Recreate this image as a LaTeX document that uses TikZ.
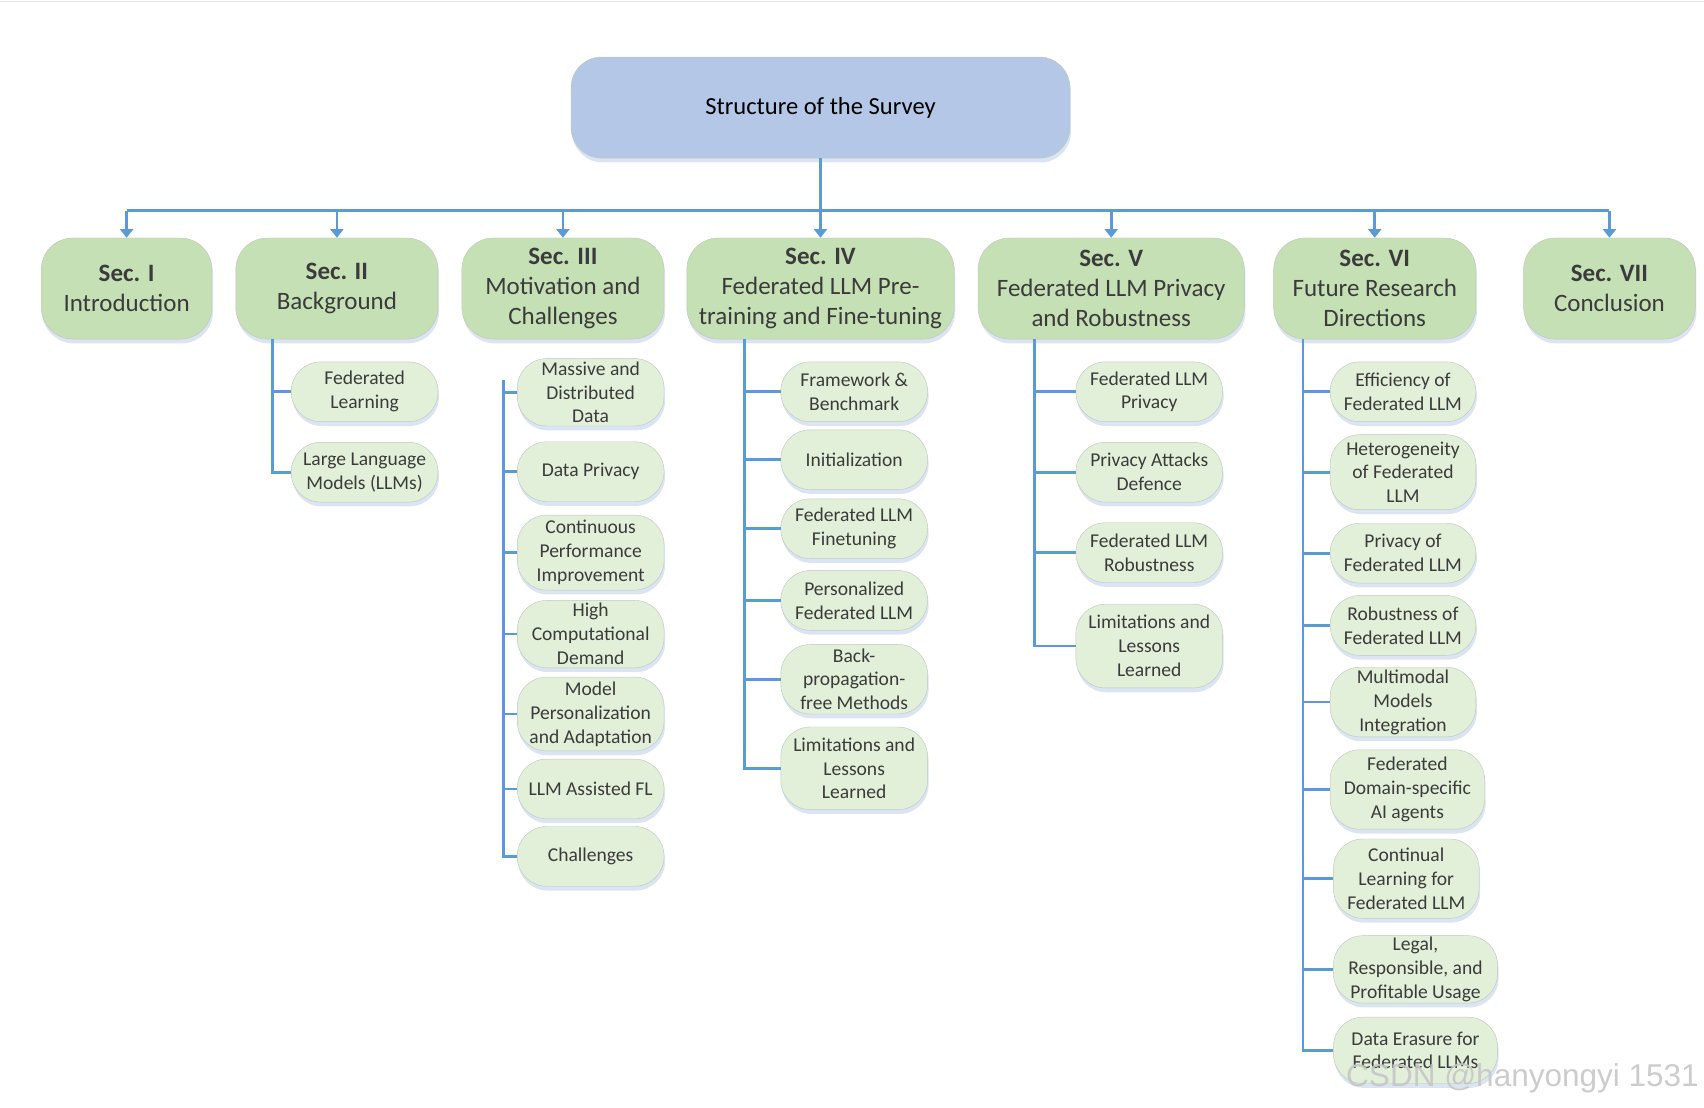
\documentclass[tikz,border=0pt]{standalone}
\usepackage{fontspec}
\setmainfont{Carlito}
\newfontfamily\marksans{Liberation Sans}
\usetikzlibrary{positioning}
\usetikzlibrary{arrows.meta}
\usetikzlibrary{shadows}
\definecolor{sBlue}{HTML}{B4C7E7}
\definecolor{sGreen}{HTML}{C5E0B4}
\definecolor{sPale}{HTML}{E2F0D9}
\definecolor{sEdge}{HTML}{BFC7BC}
\definecolor{sLine}{HTML}{5B9BD5}
\definecolor{sText}{HTML}{3B3B3B}
\definecolor{sShade}{HTML}{CCD8EC}

\tikzset{
  boxshadow/.style={drop shadow={shadow xshift=1pt, shadow yshift=-4pt, fill=sShade, opacity=0.7}},
  topbox/.style={draw=sEdge, fill=sBlue, rounded corners=28pt, minimum width=459pt, minimum height=93pt, font=\fontsize{22.6}{26}\selectfont, boxshadow},
  secbox/.style={draw=sEdge, fill=sGreen, rounded corners=29pt, align=center, minimum height=93pt, inner sep=0pt, text=sText, font=\fontsize{23}{27.5}\selectfont, boxshadow},
  subbox/.style={draw=sEdge, fill=sPale, rounded corners=27pt, align=center, minimum width=135pt, minimum height=55pt, inner sep=0pt, text=sText, font=\fontsize{18}{22}\selectfont, boxshadow},
  link/.style={draw=sLine, line width=2.5pt},
  down/.style={link, -{Triangle[width=12pt, length=8pt]}},
}

\begin{document}
\begin{tikzpicture}[x=1pt, y=-1pt]
  \useasboundingbox (0,0) rectangle (1568,1019);
  \draw[gray!20, line width=1.5pt] (0,1.5) -- (1568,1.5);

  \node[topbox] (survey) at (755,99) {Structure of the Survey};

  % sections
  \node[secbox, minimum width=157pt] (sec1) at (116.5,265.5) {\textbf{Sec. I}\\Introduction};
  \node[secbox, minimum width=186pt] (sec2) at (310,265.5) {\textbf{Sec. II}\\Background};
  \node[secbox, minimum width=186pt] (sec3) at (518,265.5) {\textbf{Sec. III}\\Motivation and\\Challenges};
  \node[secbox, minimum width=246pt] (sec4) at (755,265.5) {\textbf{Sec. IV}\\Federated LLM Pre-\\training and Fine-tuning};
  \node[secbox, minimum width=245pt] (sec5) at (1022.5,265.5) {\textbf{Sec. V}\\Federated LLM Privacy\\and Robustness};
  \node[secbox, minimum width=186pt] (sec6) at (1265,265.5) {\textbf{Sec. VI}\\Future Research\\Directions};
  \node[secbox, minimum width=158pt] (sec7) at (1481,265.5) {\textbf{Sec. VII}\\Conclusion};

  \coordinate (bus) at (755,194);
  \draw[link] (survey) -- (bus);
  \draw[link] (bus -| sec1) -- (bus -| sec7);
  \foreach \s in {sec1,sec2,sec3,sec4,sec5,sec6,sec7}
    \draw[down] (bus -| \s) -- (\s.north);

  % Sec. II
  \node[subbox] (bg1) at (335.5,360.5) {Federated\\Learning};
  \node[subbox] (bg2) at (335.5,434.5) {Large Language\\Models (LLMs)};
  \coordinate (bgtop) at (251,312);
  \draw[link] (bgtop) |- (bg2.west);
  \draw[link] (bg1.west -| bgtop) -- (bg1.west);

  % Sec. III
  \node[subbox, minimum height=62pt] (mot1) at (543.5,361) {Massive and\\Distributed\\Data};
  \node[subbox] (mot2) at (543.5,434) {Data Privacy};
  \node[subbox, minimum height=69pt] (mot3) at (543.5,508.5) {Continuous\\Performance\\Improvement};
  \node[subbox, minimum height=62pt] (mot4) at (543.5,583.5) {High\\Computational\\Demand};
  \node[subbox, minimum height=68pt] (mot5) at (543.5,657) {Model\\Personalization\\and Adaptation};
  \node[subbox] (mot6) at (543.5,726) {LLM Assisted FL};
  \node[subbox] (mot7) at (543.5,788) {Challenges};
  \coordinate (mottop) at (463,350);
  \draw[link] (mottop) |- (mot7.west);
  \foreach \n in {mot1,mot2,mot3,mot4,mot5,mot6}
    \draw[link] (\n.west -| mottop) -- (\n.west);

  % Sec. IV
  \node[subbox] (pre1) at (786,360.5) {Framework \&\\Benchmark};
  \node[subbox] (pre2) at (786,423) {Initialization};
  \node[subbox] (pre3) at (786,486.5) {Federated LLM\\Finetuning};
  \node[subbox] (pre4) at (786,552.5) {Personalized\\Federated LLM};
  \node[subbox, minimum height=64pt] (pre5) at (786,625) {Back-\\propagation-\\free Methods};
  \node[subbox, minimum height=76pt] (pre6) at (786,707) {Limitations and\\Lessons\\Learned};
  \coordinate (pretop) at (685,312);
  \draw[link] (pretop) |- (pre6.west);
  \foreach \n in {pre1,pre2,pre3,pre4,pre5}
    \draw[link] (\n.west -| pretop) -- (\n.west);

  % Sec. V
  \node[subbox] (rob1) at (1057.5,360.5) {Federated LLM\\Privacy};
  \node[subbox] (rob2) at (1057.5,434.5) {Privacy Attacks\\Defence};
  \node[subbox] (rob3) at (1057.5,508.5) {Federated LLM\\Robustness};
  \node[subbox, minimum height=77pt] (rob4) at (1057.5,594.5) {Limitations and\\Lessons\\Learned};
  \coordinate (robtop) at (952,312);
  \draw[link] (robtop) |- (rob4.west);
  \foreach \n in {rob1,rob2,rob3}
    \draw[link] (\n.west -| robtop) -- (\n.west);

  % Sec. VI
  \node[subbox, minimum width=134pt] (fut1) at (1291,360.5) {Efficiency of\\Federated LLM};
  \node[subbox, minimum width=134pt, minimum height=69pt] (fut2) at (1291,434.5) {Heterogeneity\\of Federated\\LLM};
  \node[subbox, minimum width=134pt] (fut3) at (1291,509) {Privacy of\\Federated LLM};
  \node[subbox, minimum width=134pt] (fut4) at (1291,575.5) {Robustness of\\Federated LLM};
  \node[subbox, minimum width=134pt, minimum height=64pt] (fut5) at (1291,646) {Multimodal\\Models\\Integration};
  \node[subbox, minimum width=142pt, minimum height=73pt] (fut6) at (1295,726.5) {Federated\\Domain-specific\\AI agents};
  \node[subbox, minimum width=134pt, minimum height=73pt] (fut7) at (1294,808.5) {Continual\\Learning for\\Federated LLM};
  \node[subbox, minimum width=151pt, minimum height=62pt] (fut8) at (1302.5,892) {Legal,\\Responsible, and\\Profitable Usage};
  \node[subbox, minimum width=151pt, minimum height=61pt] (fut9) at (1302.5,966.5) {Data Erasure for\\Federated LLMs};
  \coordinate (futtop) at (1199,312);
  \draw[link] (futtop) |- (fut9.west);
  \foreach \n in {fut1,fut2,fut3,fut4,fut5,fut6,fut7,fut8}
    \draw[link] (\n.west -| futtop) -- (\n.west);

  \node[font=\marksans\fontsize{29}{31}\selectfont, text=gray!45, opacity=0.9] (mark) at (1401,992) {CSDN @hanyongyi 1531};
\end{tikzpicture}
\end{document}
